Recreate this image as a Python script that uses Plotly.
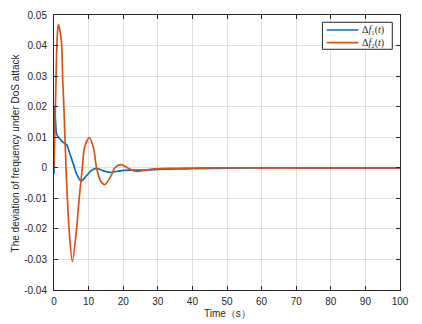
import plotly.graph_objects as go

# Time samples and values
t_f1 = [0, 0.2, 0.5, 0.78, 1.73, 2.7, 3.66, 4.6, 5.6, 6.55, 7.8, 9.4, 10.9, 12.3,
        14.3, 16.2, 19.1, 22, 27.7, 30, 35, 40, 50, 60, 70, 80, 90, 100]
f1 = [-0.002, 0.020, 0.014, 0.011, 0.0094, 0.0083, 0.0075, 0.0045, 0.0012, -0.0021,
      -0.0043, -0.0026, -0.0008, -0.0002, -0.0010, -0.0015, -0.0010, -0.0008,
      -0.0007, -0.0005, -0.0004, -0.0003, -0.0001, 0.0, 0.0, 0.0, 0.0, 0.0]

t_f2 = [0, 0.3, 0.6, 0.9, 1.25, 1.7, 2.2, 2.5, 2.9, 3.47, 3.85, 4.33, 5.3, 6.55,
        7.3, 8.2, 8.8, 10.2, 11.4, 12.3, 13.5, 14.7, 16.7, 17.6, 19.4, 21.2, 23.7,
        27.7, 30.6, 35, 40, 50, 60, 70, 80, 90, 100]
f2 = [0.0, 0.015, 0.030, 0.042, 0.0469, 0.045, 0.0406, 0.0296, 0.0187, 0.0, -0.0097,
      -0.0197, -0.0307, -0.0197, -0.0097, 0.0, 0.0066, 0.0099, 0.0066, 0.0, -0.0044,
      -0.0055, -0.0022, 0.0, 0.0010, 0.0, -0.0012, -0.0005, -0.0003, -0.0002, -0.0001,
      0.0, 0.0, 0.0, 0.0, 0.0, 0.0]

x_ticks = [0, 10, 20, 30, 40, 50, 60, 70, 80, 90, 100]
y_ticks = [0.05, 0.04, 0.03, 0.02, 0.01, 0, -0.01, -0.02, -0.03, -0.04]
y_labels = ["0.05", "0.04", "0.03", "0.02", "0.01", "0", "-0.01", "-0.02", "-0.03", "-0.04"]

series_names = ["Δ<i>f</i>₁(<i>t</i>)", "Δ<i>f</i>₂(<i>t</i>)"]
series_colors = ["#0072BD", "#D95319"]

fig = go.Figure()
fig.add_trace(go.Scatter(x=t_f1, y=f1, mode="lines", name=series_names[0],
                         line=dict(color=series_colors[0], width=1.7, shape="spline", smoothing=0.8)))
fig.add_trace(go.Scatter(x=t_f2, y=f2, mode="lines", name=series_names[1],
                         line=dict(color=series_colors[1], width=1.7, shape="spline", smoothing=0.8)))

axis_common = dict(showline=True, linecolor="#262626", linewidth=1, mirror="allticks",
                   ticks="inside", ticklen=4, tickcolor="#262626", automargin=False,
                   showgrid=True, gridcolor="#DFDFDF", gridwidth=1, zeroline=False,
                   tickfont=dict(family="Liberation Sans, Arial", size=10, color="#262626"))

# Compact MATLAB-style legend drawn with shapes and text (paper coordinates)
leg_x0, leg_x1, leg_top, leg_bot = 0.7757, 0.9777, 0.9735, 0.8753
line_x0, line_x1, text_x = 0.7882, 0.8795, 0.8844
row_y = [0.9455, 0.8993]

shapes = [dict(type="rect", xref="paper", yref="paper", x0=leg_x0, x1=leg_x1,
               y0=leg_bot, y1=leg_top, line=dict(color="#262626", width=1),
               fillcolor="white", layer="above")]
annotations = []
for name, color, yy in zip(series_names, series_colors, row_y):
    shapes.append(dict(type="line", xref="paper", yref="paper", x0=line_x0, x1=line_x1,
                       y0=yy, y1=yy, line=dict(color=color, width=1.7), layer="above"))
    annotations.append(dict(text=name, xref="paper", yref="paper", x=text_x, y=yy,
                            xanchor="left", yanchor="middle", showarrow=False,
                            font=dict(family="Liberation Serif, Times New Roman", size=10,
                                      color="#262626")))

annotations += [
    dict(text="Time（s）", xref="paper", yref="paper", x=0.5, y=-0.084,
         xanchor="center", yanchor="middle", showarrow=False,
         font=dict(family="Liberation Sans, Arial", size=10, color="#262626")),
    dict(text="The deviation of frequency under DoS attack", xref="paper", yref="paper",
         x=-0.11, y=0.5, xanchor="center", yanchor="middle", textangle=-90,
         showarrow=False,
         font=dict(family="Liberation Sans, Arial", size=10, color="#262626")),
]

fig.update_layout(
    width=422, height=324,
    margin=dict(l=54, r=22, t=15, b=34),
    paper_bgcolor="white", plot_bgcolor="white",
    font=dict(family="Liberation Sans, Arial", size=10, color="#262626"),
    xaxis=dict(range=[0, 100], tickvals=x_ticks, ticklabelstandoff=2, **axis_common),
    yaxis=dict(range=[-0.04, 0.05], tickvals=y_ticks, ticktext=y_labels,
               ticklabelstandoff=4, **axis_common),
    showlegend=False,
    shapes=shapes,
    annotations=annotations,
)

fig.write_html("out.html", config={"displayModeBar": False},
               post_script="document.body.style.margin='0px';document.body.style.overflow='hidden';")
